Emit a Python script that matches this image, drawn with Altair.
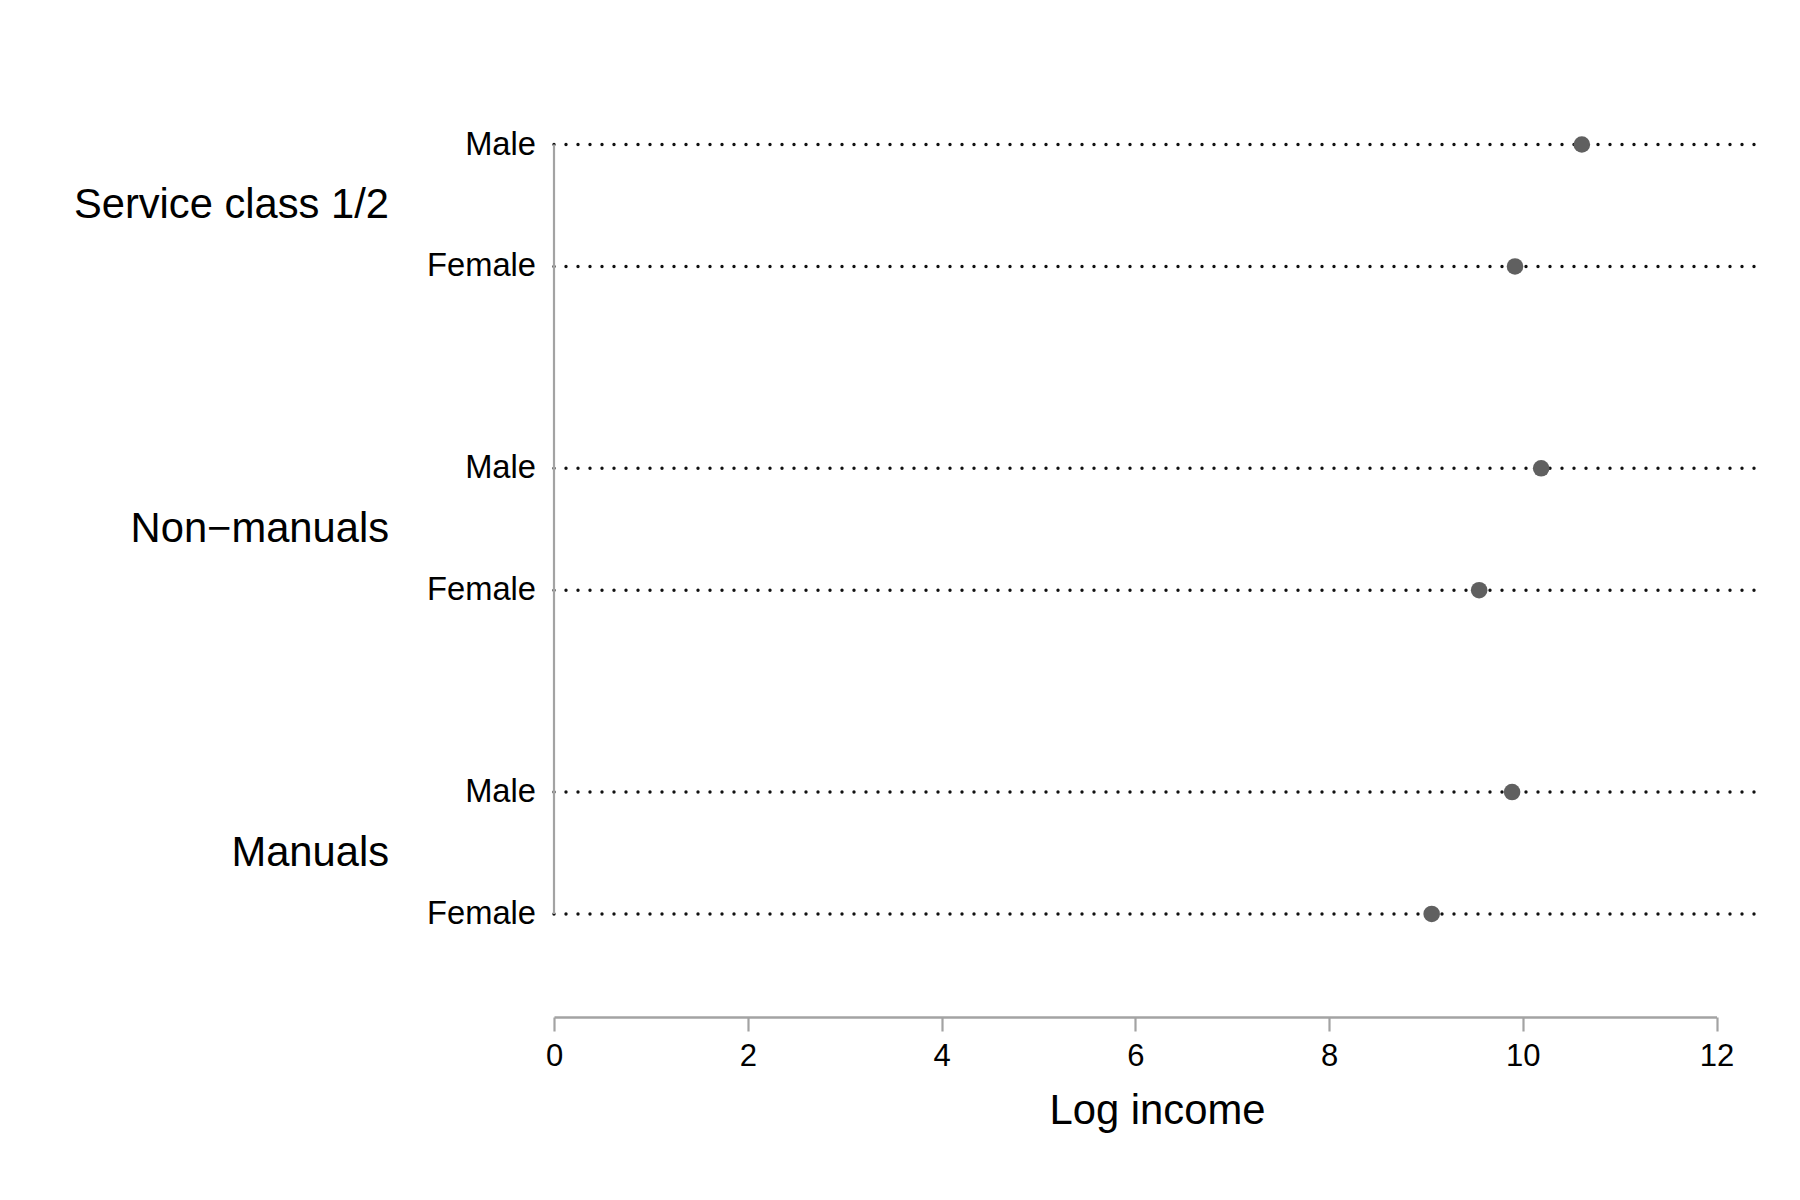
import altair as alt
import pandas as pd

# ---- data ----
groups = ["Service class 1/2", "Non\u2212manuals", "Manuals"]
sexes = ["Male", "Female"]
log_income_male = [10.61, 10.19, 9.89]
log_income_female = [9.92, 9.55, 9.06]
x_ticks = [0, 2, 4, 6, 8, 10, 12]

# layout constants (not data)
GAP = 1.655          # extra space between groups, in row units
W, H = 1162.5, 917   # plot area (x from 0 to 12)
LINE_END = 1206      # dotted lines run past the axis end

rows = []
for g, grp in enumerate(groups):
    vals = [log_income_male[g], log_income_female[g]]
    for k, sx in enumerate(sexes):
        rows.append({"group": grp, "sex": sx, "value": vals[k],
                     "pos": g * (1 + GAP) + k})
df = pd.DataFrame(rows)
gdf = pd.DataFrame({"group": groups,
                    "pos": [g * (1 + GAP) + 0.5 for g in range(len(groups))]})

top_pos = -0.365
bot_pos = (len(groups) - 1) * (1 + GAP) + 1 + 0.845
yscale = alt.Scale(domain=[top_pos, bot_pos], reverse=True, nice=False, zero=False)
xscale = alt.Scale(domain=[0, 12], nice=False, zero=True)

base = alt.Chart(df)

dots = base.mark_rule(strokeDash=[0, 12], strokeCap="round", strokeWidth=3.4,
                      color="#111111").encode(
    y=alt.Y("pos:Q", scale=yscale, axis=None),
    x=alt.value(0), x2=alt.value(LINE_END))

vaxis = base.mark_rule(color="#a3a3a3", strokeWidth=2.2).encode(
    x=alt.value(0),
    y=alt.Y("min(pos):Q", scale=yscale,
            axis=alt.Axis(values=df["pos"].tolist(), labels=False, domain=False,
                          ticks=True, tickSize=4, tickWidth=2,
                          tickColor="#a3a3a3", grid=False, title=None)),
    y2="max(pos):Q")

points = base.mark_circle(size=275, color="#606060", opacity=1).encode(
    x=alt.X("value:Q", scale=xscale,
            axis=alt.Axis(values=x_ticks, grid=False, tickSize=14, tickWidth=2.2,
                          tickColor="#a3a3a3", domainColor="#a3a3a3",
                          domainWidth=2.5, labelFontSize=31, labelColor="black",
                          labelFlush=False, labelBaseline="alphabetic",
                          labelPadding=34, title="Log income", titleFontSize=41.8,
                          titleFontWeight="normal", titleColor="black",
                          titleX=LINE_END / 2, titleY=106,
                          titleBaseline="alphabetic", titleAlign="center")),
    y=alt.Y("pos:Q", scale=yscale))

sex_labels = base.mark_text(align="right", baseline="middle", fontSize=32.7,
                            color="black", dx=-18).encode(
    x=alt.value(0), y=alt.Y("pos:Q", scale=yscale), text="sex:N")

group_labels = alt.Chart(gdf).mark_text(align="right", baseline="middle",
                                        fontSize=41.7, color="black").encode(
    x=alt.value(-165), y=alt.Y("pos:Q", scale=yscale), text="group:N")

chart = alt.layer(dots, vaxis, points, sex_labels, group_labels).properties(
    width=W, height=H,
    autosize=alt.AutoSizeParams(type="none"),
    padding={"left": 546, "top": 92, "right": 70, "bottom": 175},
).configure(font="Liberation Sans").configure_view(stroke=None)

chart.save("out.html", embed_options={"renderer": "svg", "actions": False})
